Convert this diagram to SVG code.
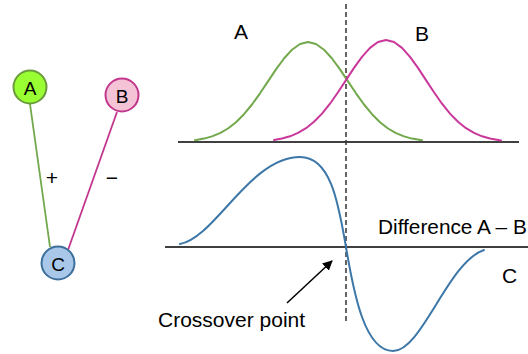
<svg xmlns="http://www.w3.org/2000/svg" width="528" height="354" viewBox="0 0 528 354">
<style>
text{font-family:"Liberation Sans",Arial,sans-serif;fill:#000}
.lbl{font-size:21px}
.nl{font-size:19px;text-anchor:middle;dominant-baseline:central}
.sign{font-size:21px;text-anchor:middle;dominant-baseline:central}
.axis{stroke:#000;stroke-width:1.3;fill:none}
.curve{fill:none;stroke-width:2;stroke-linejoin:round;stroke-linecap:round}
</style>
<defs>
<marker id="ah" viewBox="0 0 10 10" refX="9" refY="5" markerWidth="10" markerHeight="10" markerUnits="userSpaceOnUse" orient="auto">
<path d="M0,0 L10,5 L0,10 z" fill="#000"/>
</marker>
</defs>
<g id="connectors">
<line x1="30" y1="104" x2="50" y2="247" stroke="#72a84c" stroke-width="1.8"/>
<line x1="117" y1="112" x2="68" y2="250" stroke="#c2378d" stroke-width="1.8"/>
</g>
<text class="sign" x="52" y="177">+</text>
<text class="sign" x="112" y="177">−</text>
<g id="nodeA">
<circle cx="30" cy="87" r="16.5" fill="#99ff33" stroke="#6a9a3c" stroke-width="2"/>
<text class="nl" x="30" y="88">A</text>
</g>
<g id="nodeB">
<circle cx="122" cy="95" r="16.5" fill="#f4c4d6" stroke="#c2378d" stroke-width="2"/>
<text class="nl" x="122" y="96">B</text>
</g>
<g id="nodeC">
<circle cx="58" cy="263" r="16.5" fill="#a9c7e8" stroke="#3d6f9c" stroke-width="2"/>
<text class="nl" x="58" y="264">C</text>
</g>
<g id="charts">
<line class="axis" x1="178" y1="142" x2="519" y2="142"/>
<line class="axis" x1="165" y1="247" x2="528" y2="247"/>
<line x1="346" y1="4" x2="346" y2="324" stroke="#333" stroke-width="1.5" stroke-dasharray="5 3"/>
<polyline class="curve" stroke="#72a84c" points="195,140.2 204,138.6 212,136.4 220,133.1 228,128.5 236,122.2 244,114.2 252,104.5 260,93.3 268,81.4 276,69.4 284,58.5 292,49.7 300,44 308,42 316,44 324,49.7 332,58.5 340,69.4 348,81.4 356,93.3 364,104.5 372,114.2 380,122.2 388,128.5 396,133.1 404,136.4 412,138.6 422,140.2"/>
<polyline class="curve" stroke="#c9379a" points="274,140 282,138.5 290,136.3 298,132.9 306,128.2 314,121.8 322,113.6 330,103.7 338,92.3 346,80.1 354,67.9 362,56.8 370,47.9 378,42 386,40 394,42 402,47.9 410,56.8 418,67.9 426,80.1 434,92.3 442,103.7 450,113.6 458,121.8 466,128.2 474,132.9 482,136.3 490,138.5 501,140.4"/>
<path class="curve" stroke="#3c77a8" d="M180,244 C215,238 250,157 300,157 C330,157 338,200 346,247 C354,295 365,351 393,351 C422,351 448,262 484,250"/>
<line x1="287" y1="303" x2="332" y2="261" stroke="#000" stroke-width="1.5" marker-end="url(#ah)"/>
<text class="lbl" x="234" y="39">A</text>
<text class="lbl" x="415" y="41">B</text>
<text class="lbl" x="378" y="234" style="font-size:20.8px">Difference A – B</text>
<text class="lbl" x="502" y="283">C</text>
<text class="lbl" x="158" y="327">Crossover point</text>
</g>
</svg>
